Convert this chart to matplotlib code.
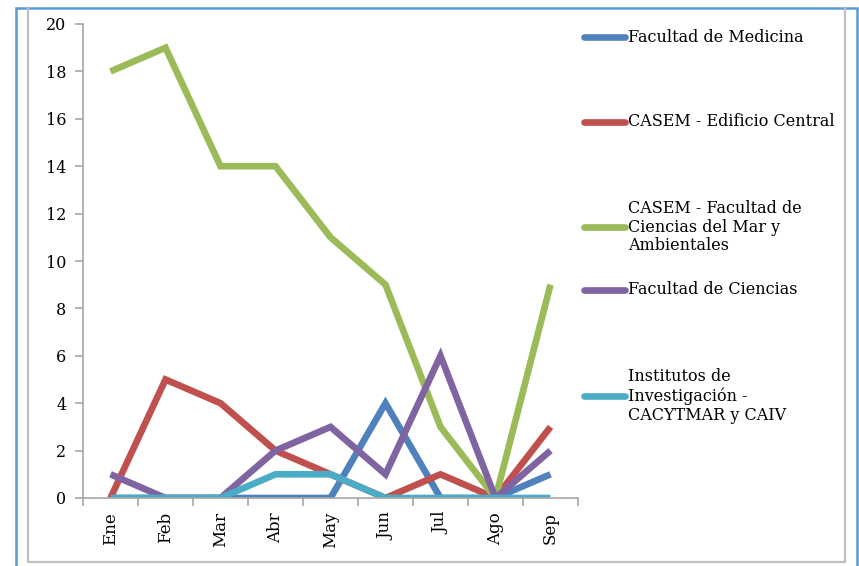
import matplotlib
matplotlib.use("Agg")
import matplotlib.pyplot as plt
from matplotlib.patches import Rectangle
from matplotlib.lines import Line2D
import numpy as np

# monthly counts per building
meses = ["Ene", "Feb", "Mar", "Abr", "May", "Jun", "Jul", "Ago", "Sep"]
medicina = [0, 0, 0, 0, 0, 4, 0, 0, 1]
casem_central = [0, 5, 4, 2, 1, 0, 1, 0, 3]
casem_mar = [18, 19, 14, 14, 11, 9, 3, 0, 9]
ciencias = [1, 0, 0, 2, 3, 1, 6, 0, 2]
institutos = [0, 0, 0, 1, 1, 0, 0, 0, 0]

series = [
    ("Facultad de Medicina", medicina, "#4F81BD"),
    ("CASEM - Edificio Central", casem_central, "#C0504D"),
    ("CASEM - Facultad de\nCiencias del Mar y\nAmbientales", casem_mar, "#9BBB59"),
    ("Facultad de Ciencias", ciencias, "#8064A2"),
    ("Institutos de\nInvestigación -\nCACYTMAR y CAIV", institutos, "#4BACC6"),
]

W, H = 859, 566
fig = plt.figure(figsize=(W / 100, H / 100), dpi=100)
plt.rcParams["font.family"] = ["DejaVu Serif"]


def px_line(xs, ys, color, lw):
    fig.lines.append(Line2D([v / W for v in xs], [1 - v / H for v in ys],
                            transform=fig.transFigure, color=color, lw=lw))


# grey chart frame (open at the top) and blue outer frame
px_line([28, 28, 845, 845], [8, 562, 562, 8], "#BFBFBF", 1.6)
fig.patches.append(Rectangle((16 / W, 1 - 580 / H), (857 - 16) / W, (580 - 8) / H,
                             transform=fig.transFigure, fill=False,
                             edgecolor="#5B9BD5", linewidth=1.8))

ax = fig.add_axes([83 / W, 1 - 498 / H, (578 - 83) / W, (498 - 24) / H])
x = np.arange(len(meses))
for name, vals, col in series:
    ax.plot(x, vals, color=col, lw=4.8, solid_joinstyle="miter", solid_capstyle="butt")

ax.set_xlim(-0.5, len(meses) - 0.5)
ax.set_ylim(0, 20)
ax.set_yticks(range(0, 21, 2))
ax.set_xticks(x)
ax.set_xticklabels(meses, rotation=90, fontsize=12)
ax.set_xticks(np.arange(-0.5, len(meses), 1), minor=True)
ax.tick_params(axis="x", which="major", length=0, pad=10)
ax.tick_params(axis="x", which="minor", length=6, color="#A6A6A6", width=1.2)
ax.tick_params(axis="y", length=6, color="#A6A6A6", width=1.2, labelsize=11.5, pad=6)
for s in ("top", "right"):
    ax.spines[s].set_visible(False)
for s in ("left", "bottom"):
    ax.spines[s].set_color("#A6A6A6")
    ax.spines[s].set_linewidth(1.2)

# legend drawn as separate entries
legend_y = [37, 122, 227, 290, 396]
for (name, vals, col), yy in zip(series, legend_y):
    fy = 1 - yy / H
    fig.lines.append(Line2D([584 / W, 625 / W], [fy, fy], transform=fig.transFigure,
                            color=col, lw=4.8, solid_capstyle="round"))
    fig.text(628 / W, fy, name, fontsize=11.5, va="center", ha="left",
             linespacing=1.15)

fig.savefig("out.png", dpi=100)
